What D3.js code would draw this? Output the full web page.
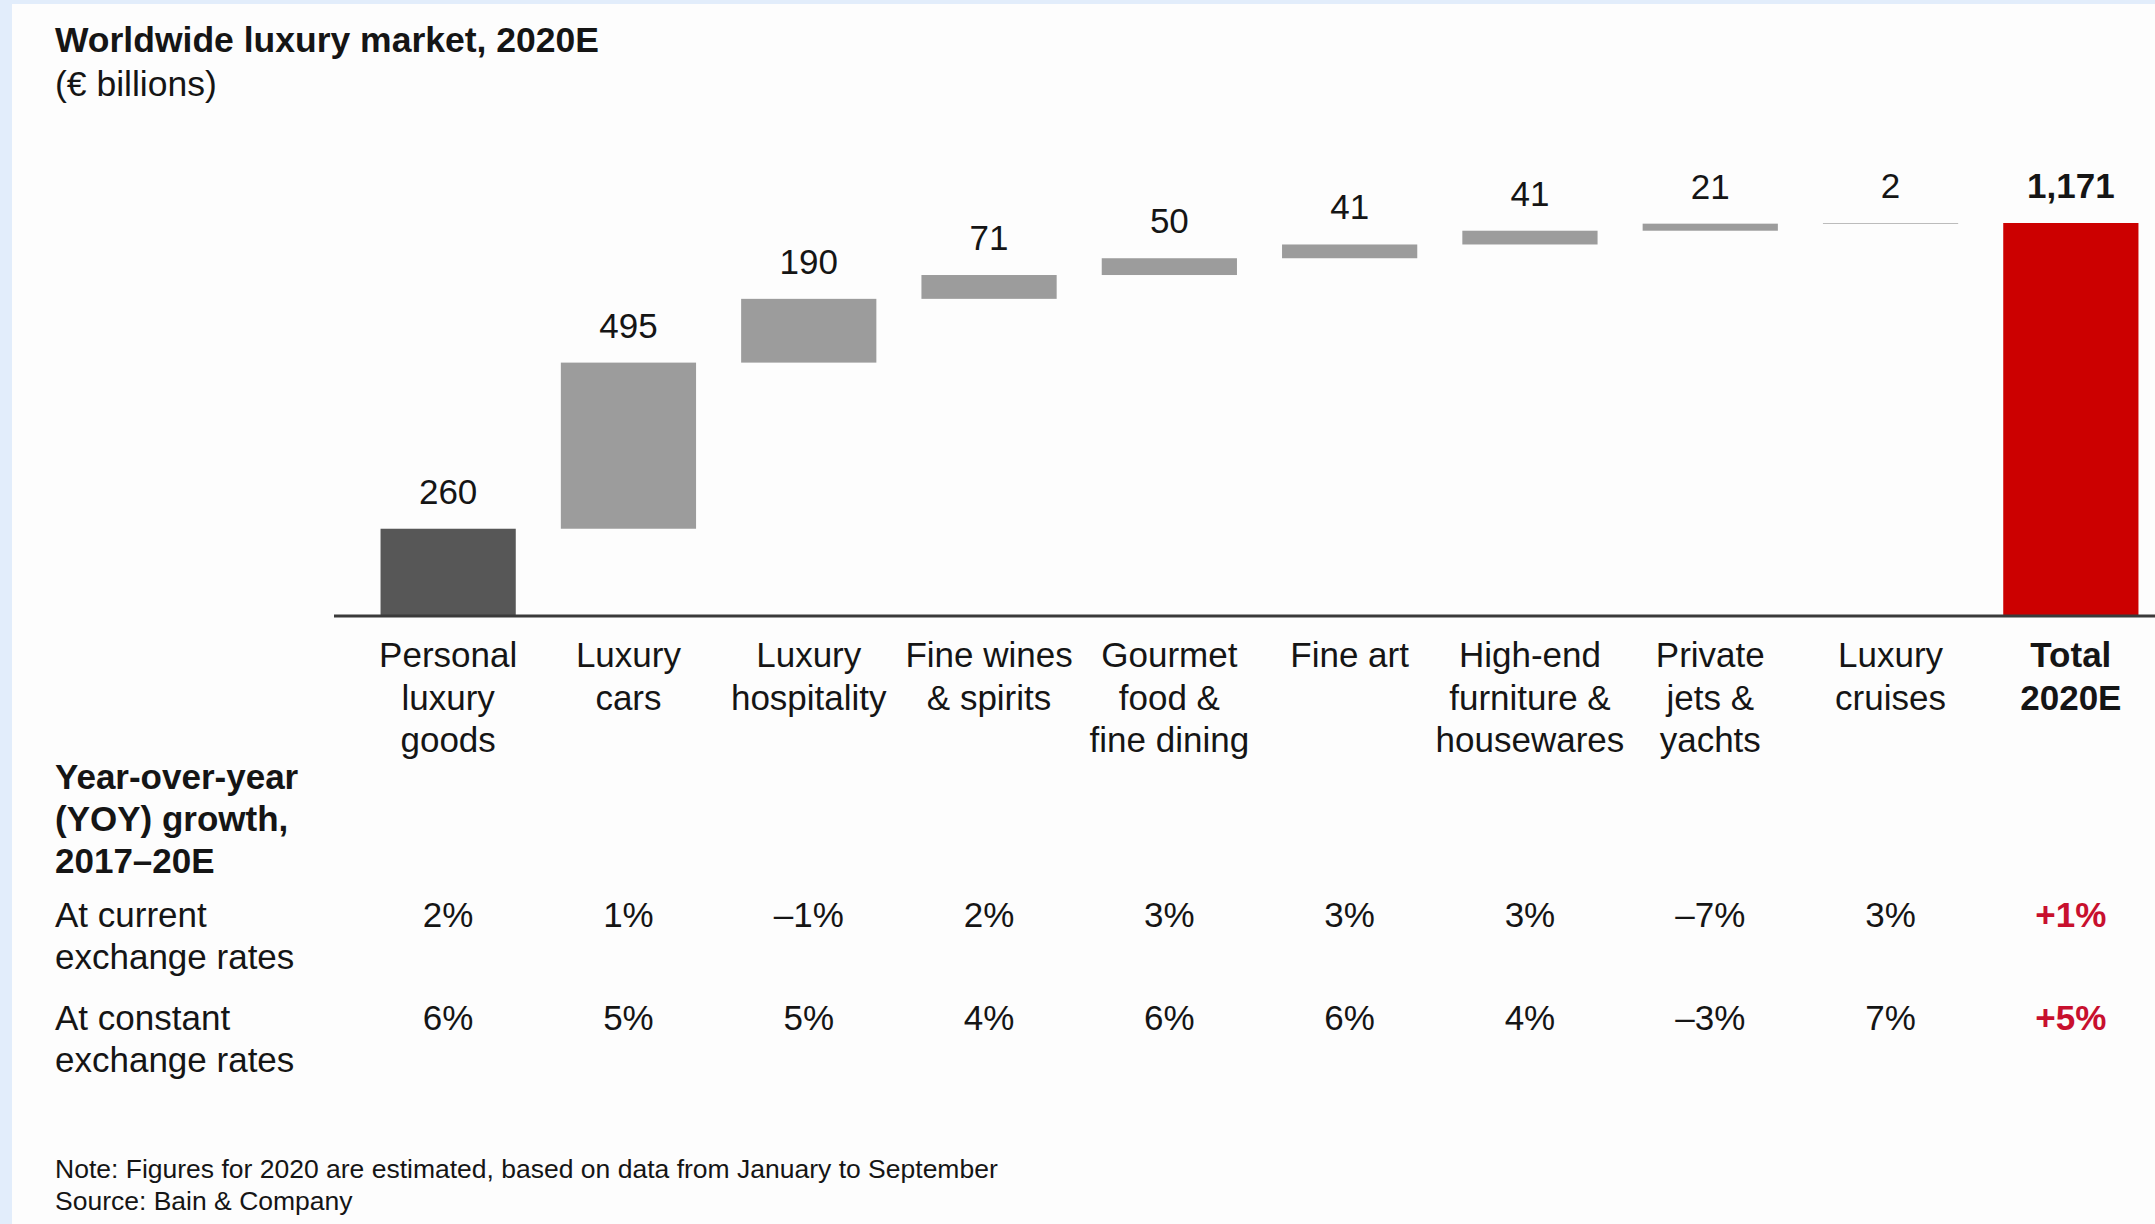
<!DOCTYPE html>
<html>
<head>
<meta charset="utf-8">
<script src="https://cdn.jsdelivr.net/npm/d3@7"></script>
<style>
  body { margin: 0; background: #fdfdfd; }
  text { font-family: "Liberation Sans", Arial, sans-serif; fill: #151515; }
</style>
</head>
<body>
<div class="vis-waterfall"></div>
<script>
// data
const categories = ["Personal luxury goods", "Luxury cars", "Luxury hospitality", "Fine wines & spirits",
    "Gourmet food & fine dining", "Fine art", "High-end furniture & housewares", "Private jets & yachts",
    "Luxury cruises", "Total 2020E"];
const categoryLines = [
    ["Personal", "luxury", "goods"],
    ["Luxury", "cars"],
    ["Luxury", "hospitality"],
    ["Fine wines", "& spirits"],
    ["Gourmet", "food &", "fine dining"],
    ["Fine art"],
    ["High-end", "furniture &", "housewares"],
    ["Private", "jets &", "yachts"],
    ["Luxury", "cruises"],
    ["Total", "2020E"]
];
const values = [260, 495, 190, 71, 50, 41, 41, 21, 2];   // € billions
const total = 1171;
const growthCurrent = [2, 1, -1, 2, 3, 3, 3, -7, 3, 1];
const growthConstant = [6, 5, 5, 4, 6, 6, 4, -3, 7, 5];
const rowLabels = [["At current", "exchange rates"], ["At constant", "exchange rates"]];

const config = {
    "bar-first": "#575757",
    "bar-step": "#9c9c9c",
    "bar-total": "#cc0000",
    "red-text": "#c8102e",
    "font-size": 35
};

const W = 2155, H = 1224;
const svg = d3.select(".vis-waterfall")
    .append("svg")
    .attr("width", W)
    .attr("height", H);

// page frame (light blue strips on left / top)
svg.append("rect").attr("width", W).attr("height", H).attr("fill", "#fdfdfd");
svg.append("rect").attr("width", 12).attr("height", H).attr("fill", "#e2edfb");
svg.append("rect").attr("width", W).attr("height", 4).attr("fill", "#e2edfb");

// title
svg.append("text")
    .attr("x", 55).attr("y", 52)
    .attr("font-size", 35.5).attr("font-weight", "bold")
    .text("Worldwide luxury market, 2020E");
svg.append("text")
    .attr("x", 55).attr("y", 96)
    .attr("font-size", 35.5)
    .text("(€ billions)");

// build waterfall rows
let running = 0;
const bars = values.map((v, i) => {
    const d = {cat: categories[i], start: running, end: running + v, value: v, kind: i === 0 ? "first" : "step"};
    running += v;
    return d;
});
bars.push({cat: categories[9], start: 0, end: total, value: total, kind: "total"});

const x = d3.scaleBand()
    .domain(categories)
    .range([358, 2161])
    .paddingInner(0.25)
    .paddingOuter(0.125);

const baseY = 616;
const y = d3.scaleLinear()
    .domain([0, total])
    .range([baseY, 223]);

const chart = svg.append("g").attr("class", "chart");

chart.selectAll("rect.bar")
    .data(bars)
    .enter().append("rect")
    .attr("class", "bar")
    .attr("x", d => x(d.cat))
    .attr("width", x.bandwidth())
    .attr("y", d => y(d.end))
    .attr("height", d => y(d.start) - y(d.end))
    .attr("fill", d => d.kind === "first" ? config["bar-first"] : d.kind === "total" ? config["bar-total"] : config["bar-step"]);

// baseline
chart.append("line")
    .attr("x1", 334).attr("x2", W)
    .attr("y1", baseY).attr("y2", baseY)
    .attr("stroke", "#3a3a3a")
    .attr("stroke-width", 3);

// value labels
chart.selectAll("text.value")
    .data(bars)
    .enter().append("text")
    .attr("class", "value")
    .attr("x", d => x(d.cat) + x.bandwidth() / 2)
    .attr("y", d => y(d.end) - 25)
    .attr("text-anchor", "middle")
    .attr("font-size", config["font-size"])
    .attr("font-weight", d => d.kind === "total" ? "bold" : "normal")
    .text(d => d3.format(",")(d.value));

// category labels
const catText = chart.selectAll("text.cat")
    .data(categories)
    .enter().append("text")
    .attr("class", "cat")
    .attr("x", d => x(d) + x.bandwidth() / 2)
    .attr("y", 667)
    .attr("text-anchor", "middle")
    .attr("font-size", config["font-size"])
    .attr("font-weight", (d, i) => i === 9 ? "bold" : "normal");
catText.selectAll("tspan")
    .data((d, i) => categoryLines[i])
    .enter().append("tspan")
    .attr("x", function() { return d3.select(this.parentNode).attr("x"); })
    .attr("dy", (d, j) => j === 0 ? 0 : 42.5)
    .text(d => d);

// YOY table
const yoy = svg.append("g").attr("class", "yoy");
yoy.append("text")
    .attr("x", 55).attr("y", 789)
    .attr("font-size", config["font-size"]).attr("font-weight", "bold")
    .selectAll("tspan")
    .data(["Year-over-year", "(YOY) growth,", "2017\u201320E"])
    .enter().append("tspan")
    .attr("x", 55)
    .attr("dy", (d, j) => j === 0 ? 0 : 42)
    .text(d => d);

const rowY = [927, 1030];
rowLabels.forEach((lines, r) => {
    yoy.append("text")
        .attr("x", 55).attr("y", rowY[r])
        .attr("font-size", config["font-size"])
        .selectAll("tspan")
        .data(lines)
        .enter().append("tspan")
        .attr("x", 55)
        .attr("dy", (d, j) => j === 0 ? 0 : 42)
        .text(d => d);
});

const fmtPct = (v, isTotal) => (v < 0 ? "\u2013" + Math.abs(v) : (isTotal ? "+" + v : "" + v)) + "%";

[growthCurrent, growthConstant].forEach((row, r) => {
    yoy.selectAll("text.g" + r)
        .data(row)
        .enter().append("text")
        .attr("class", "g" + r)
        .attr("x", (d, i) => x(categories[i]) + x.bandwidth() / 2)
        .attr("y", rowY[r])
        .attr("text-anchor", "middle")
        .attr("font-size", config["font-size"])
        .attr("font-weight", (d, i) => i === 9 ? "bold" : "normal")
        .style("fill", (d, i) => i === 9 ? config["red-text"] : null)
        .text((d, i) => fmtPct(d, i === 9));
});

// footnote
svg.append("text")
    .attr("x", 55).attr("y", 1178)
    .attr("font-size", 26.5)
    .text("Note: Figures for 2020 are estimated, based on data from January to September");
svg.append("text")
    .attr("x", 55).attr("y", 1210)
    .attr("font-size", 26.5)
    .text("Source: Bain & Company");
</script>
</body>
</html>
